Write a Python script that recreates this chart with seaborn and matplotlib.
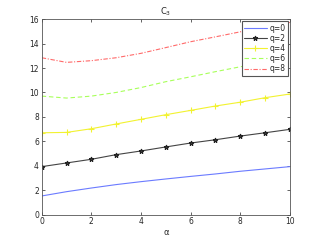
import numpy as np
import pandas as pd
import matplotlib
matplotlib.use("Agg")
import matplotlib.pyplot as plt
import seaborn as sns

alpha = list(range(11))
q0 = [1.53, 1.88, 2.18, 2.46, 2.70, 2.92, 3.13, 3.33, 3.55, 3.74, 3.93]
q2 = [3.93, 4.23, 4.53, 4.91, 5.21, 5.54, 5.86, 6.13, 6.43, 6.70, 6.98]
q4 = [6.70, 6.73, 7.03, 7.42, 7.80, 8.18, 8.53, 8.89, 9.20, 9.57, 9.87]
q6 = [9.70, 9.54, 9.70, 10.00, 10.40, 10.88, 11.28, 11.70, 12.10, 12.45, 12.79]
q8 = [12.84, 12.46, 12.60, 12.84, 13.20, 13.67, 14.15, 14.55, 14.96, 15.35, 15.73]
labels = ["q=0", "q=2", "q=4", "q=6", "q=8"]

sns.set_style("ticks")
plt.rcParams["font.family"] = ["DejaVu Sans"]

fig = plt.figure(figsize=(3.21, 2.42), dpi=100)
ax = fig.add_axes([0.13, 0.113, 0.773, 0.808])

series = [q0, q2, q4, q6, q8]
# colour, linestyle, marker, marker size
styles = [
    ("#6b7bff", "-", "None", 0),
    ("#444444", "-", "*", 3.5),
    ("#f2f230", "-", "+", 4),
    ("#a8ff5a", (0, (4, 2.5)), "None", 0),
    ("#ff6a6a", (0, (4, 1.5, 1, 1.5)), "None", 0),
]
for vals, lab, (col, ls, mk, ms) in zip(series, labels, styles):
    df = pd.DataFrame({"alpha": alpha, "C": vals})
    sns.lineplot(data=df, x="alpha", y="C", ax=ax, color=col, linewidth=0.8, legend=False)
    ln = ax.lines[-1]
    ln.set_linestyle(ls)
    ln.set_marker(mk)
    ln.set_markersize(ms)
    ln.set_markeredgewidth(0.8)
    ln.set_markerfacecolor(col)
    ln.set_markeredgecolor(col if mk != "*" else "#222222")
    ln.set_label(lab)

ax.set_xlim(0, 10)
ax.set_ylim(0, 16)
ax.set_xticks(range(0, 11, 2))
ax.set_yticks(range(0, 17, 2))
ax.tick_params(direction="in", length=2.5, width=0.5, labelsize=5.5, top=True, right=True, pad=2)
for s in ax.spines.values():
    s.set_linewidth(0.6)
    s.set_color("#555555")
ax.set_xlabel("α", fontsize=6, labelpad=1)
ax.set_ylabel("")
ax.set_title("C$_3$", fontsize=6, pad=3)

leg = ax.legend(loc="upper right", fontsize=5.5, frameon=True, fancybox=False,
                handlelength=3.0, borderpad=0.3, labelspacing=0.15,
                borderaxespad=0.3, handletextpad=0.3, framealpha=1)
leg.get_frame().set_edgecolor("#555555")
leg.get_frame().set_linewidth(0.8)

fig.savefig("out.png", dpi=100)
